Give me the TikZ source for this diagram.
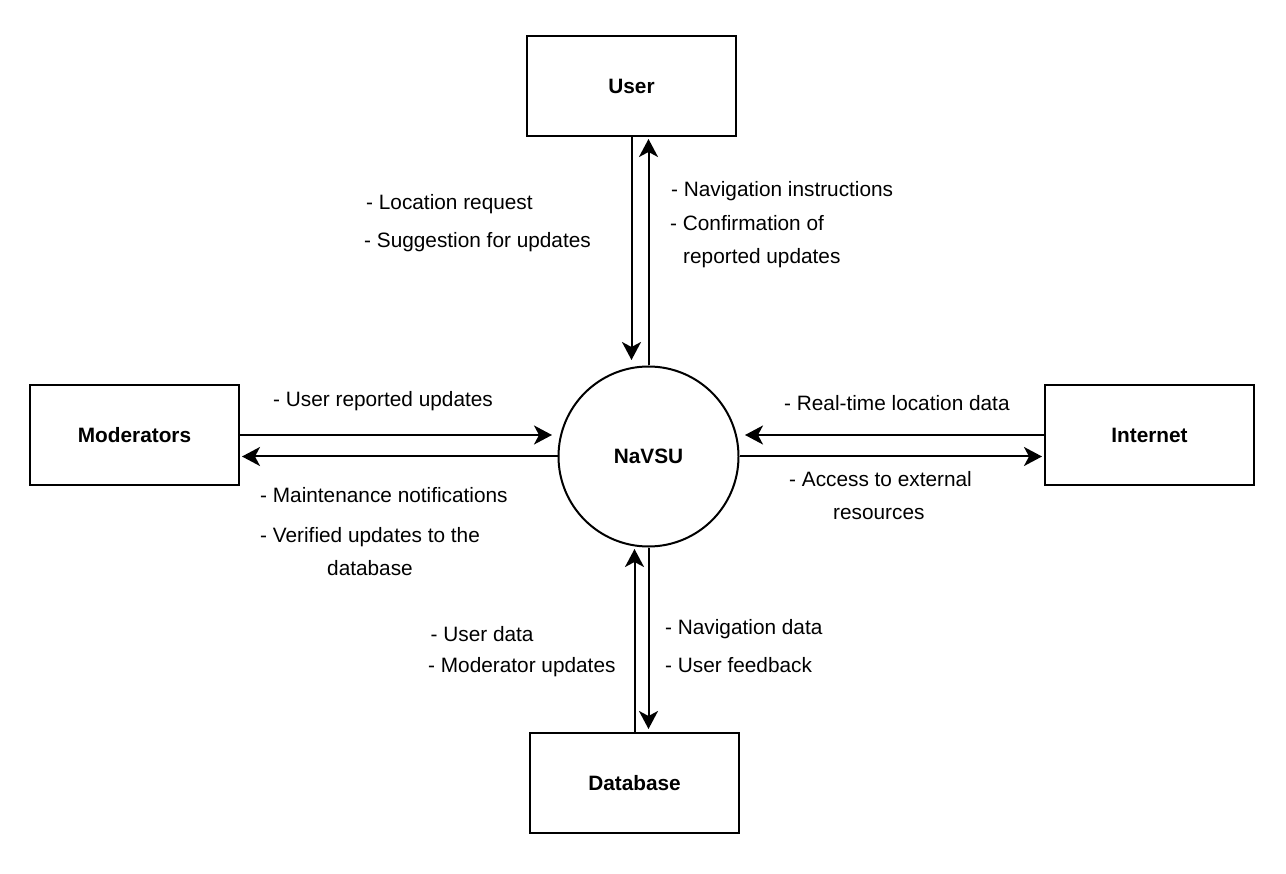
\documentclass[tikz,border=0pt]{standalone}
\usepackage{fontspec}
\setmainfont{Liberation Sans}
\usetikzlibrary{arrows.meta}

\begin{document}
\fontsize{20.8}{25}\selectfont
\begin{tikzpicture}
[x=1pt,y=-1pt,>={Stealth[length=18pt,width=19pt,inset=5pt]},
 entity/.style={draw,line width=2pt,minimum width=209pt,minimum height=100pt,inner sep=0pt,font=\bfseries},
 process/.style={draw,circle,line width=2pt,minimum size=180pt,inner sep=0pt,font=\bfseries},
 flow/.style={->,line width=2pt},
 note/.style={anchor=base west,inner sep=0pt},]

\useasboundingbox (0,0) rectangle (1286,874);

%External entities
\node (U) at (631.5,86.5)[entity] {User};
\node (M) at (134.5,435)[entity] {Moderators};
\node (I) at (1149.5,435)[entity] {Internet};
\node (D) at (634.5,783)[entity] {Database};

%Main process
\node (N) at (648.5,456.5)[process] {NaVSU};

%Free ends of incoming flows
\coordinate (UN) at (631.5,360);
\coordinate (MN) at (552,435);
\coordinate (IN) at (745,435);
\coordinate (DN) at (634.5,549);

%User flows
\draw[flow] (U.south) -- (UN);
\draw[flow,shorten >=1.5pt] (N.north) -- (N.north |- U.south);
\node[note] (ureq) at (366,210) {- Location request};
\node[note] (usug) at (364,248) {- Suggestion for updates};
\node[note] (unav) at (671,196.5) {- Navigation instructions};
\node[note] (ucon) at (670,231) {- Confirmation of};
\node[note] (urep) at (683,264) {reported updates};

%Moderator flows
\draw[flow] (M.east) -- (MN);
\draw[flow,shorten >=2pt] (N.west) -- (N.west -| M.east);
\node[note] (mrep) at (273,407) {- User reported updates};
\node[note] (mmai) at (260,503) {- Maintenance notifications};
\node[note] (mver) at (260,542.5) {- Verified updates to the};
\node[note] (mdb) at (327,575) {database};

%Internet flows
\draw[flow] (I.west) -- (IN);
\draw[flow,shorten >=2pt] (N.east) -- (N.east -| I.west);
\node[note] (ireal) at (784,411) {- Real-time location data};
\node[note] (iacc) at (789,487) {- Access to external};
\node[note] (ires) at (833,519) {resources};

%Database flows
\draw[flow] (D.north) -- (DN);
\draw[flow,shorten >=3pt] (N.south) -- (N.south |- D.north);
\node[note] (duser) at (430.5,641) {- User data};
\node[note] (dmod) at (428,672.5) {- Moderator updates};
\node[note] (dnav) at (665,634) {- Navigation data};
\node[note] (dfb) at (665,672) {- User feedback};

\end{tikzpicture}
\end{document}
